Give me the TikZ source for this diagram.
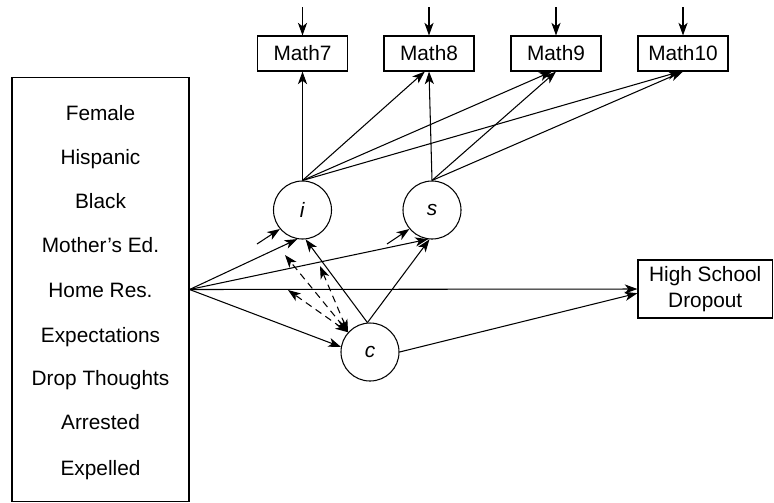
\documentclass[tikz,border=0pt]{standalone}
\usepackage{fontspec}
\setmainfont{Liberation Sans}
\usetikzlibrary{arrows.meta}
\begin{document}
\begin{tikzpicture}[x=0.025cm,y=-0.025cm,line width=0.75pt,
        >={Stealth[length=9pt,width=6.5pt,inset=2.5pt]},
        every node/.style={font=\fontsize{14.8}{18.4}\selectfont},
        obs/.style={draw,minimum width=2.25cm,minimum height=0.875cm,inner sep=0pt,text height=10.6pt,text depth=0pt},
        lat/.style={draw,circle,minimum size=1.45cm,inner sep=0pt},
        item/.style={text height=10.6pt,text depth=0pt,inner sep=0pt},
        covar/.style={<->,dash pattern=on 5pt off 3.5pt}]
        \useasboundingbox (0,0) rectangle (774,502);
        % covariates
        \node (cov) [draw,minimum width=4.425cm,minimum height=10.575cm,inner sep=0pt] at (100.5,289.5) {};
        \node (female) [item] at (100.5,113) {Female};
        \node (hisp) [item] at (100.5,157) {Hispanic};
        \node (black) [item] at (100.5,201) {Black};
        \node (momed) [item] at (100.5,245) {Mother’s Ed.};
        \node (homeres) [item] at (100.5,290) {Home Res.};
        \node (expect) [item] at (100.5,335) {Expectations};
        \node (dropth) [item] at (100.5,378) {Drop Thoughts};
        \node (arrest) [item] at (100.5,422) {Arrested};
        \node (expel) [item] at (100.5,468) {Expelled};
        \coordinate (src) at (cov.east);
        % math scores
        \node (m7) [obs] at (302.5,53.5) {Math7};
        \node (m8) [obs] at (429,53.5) {Math8};
        \node (m9) [obs] at (556,53.5) {Math9};
        \node (m10) [obs] at (683,53.5) {Math10};
        \coordinate (e7) at (302.5,7);
        \coordinate (e8) at (429,7);
        \coordinate (e9) at (556,7);
        \coordinate (e10) at (683,7);
        \draw[->] (e7)--(m7);
        \draw[->] (e8)--(m8);
        \draw[->] (e9)--(m9);
        \draw[->] (e10)--(m10);
        % growth factors
        \node (i) [lat] at (302.5,210) {\textit{i}};
        \node (s) [lat] at (432,210) {\textit{s}};
        \node (c) [lat] at (370,352) {\textit{c}};
        \node (hsd) [draw,align=center,minimum width=3.3625cm,minimum height=1.45cm,inner sep=0pt] at (705.25,289) {High School\\Dropout};
        \draw[->] (i.north)--(m7.south);
        \draw[->] (i.north)--([xshift=-3pt]m8.south);
        \draw[->] (i.north)--([xshift=-3pt]m9.south);
        \draw[->] (i.north)--([xshift=-2pt]m10.south);
        \draw[->] (s.north)--(m8.south);
        \draw[->] (s.north)--(m9.south);
        \draw[->] (s.north)--(m10.south);
        % residuals
        \coordinate (di) at (257,244);
        \coordinate (ds) at (387,244);
        \draw[->] (di)--(i.-140);
        \draw[->] (ds)--(s.-140);
        % covariate effects
        \draw[->] (src)--(i.-100);
        \draw[->] (src)--(s.-98);
        \draw[->] (src)--(c.170);
        \draw[->] (src)--(hsd.west);
        \draw[->] (c.95)--(i.-84);
        \draw[->] (c.95)--(s.-95);
        \draw[->] (c.east)--([yshift=-3pt]hsd.west);
        % covariances
        \coordinate (v1) at (285,255);
        \coordinate (v2) at (320,266);
        \coordinate (v3) at (288,290);
        \draw[covar] (c.138)--(v1);
        \draw[covar] (c.138)--(v2);
        \draw[covar] (c.138)--(v3);
\end{tikzpicture}
\end{document}
